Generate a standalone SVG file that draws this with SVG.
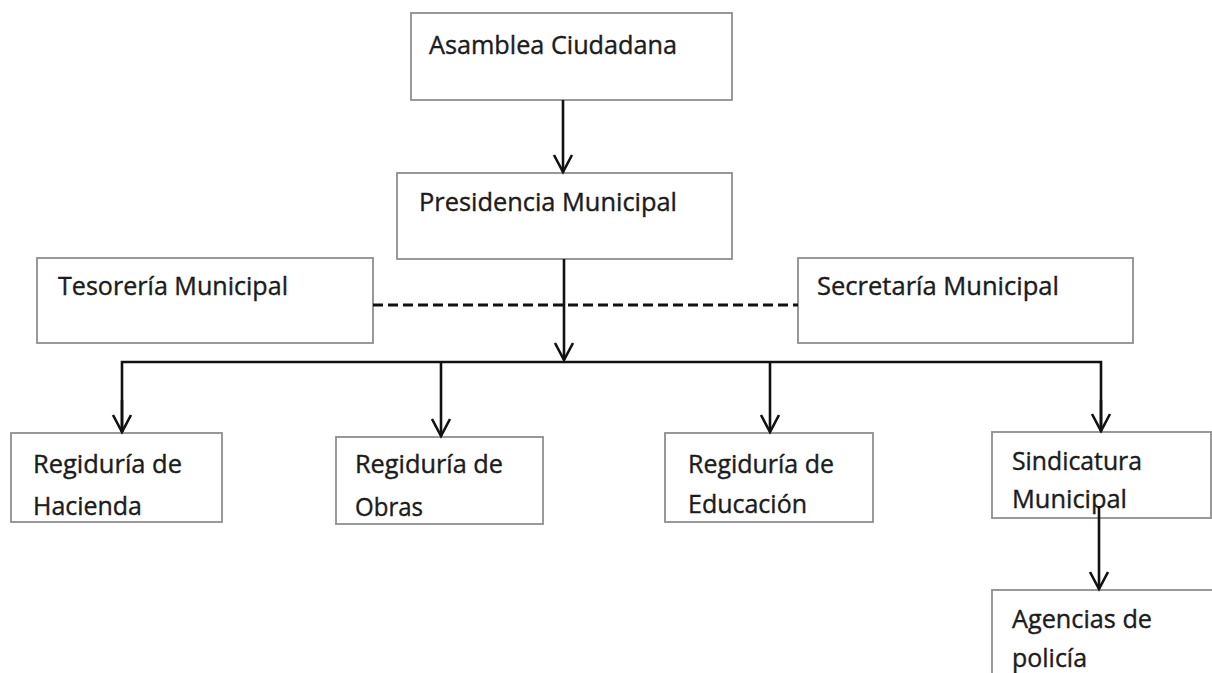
<svg xmlns="http://www.w3.org/2000/svg" width="1212" height="673" viewBox="0 0 1212 673">
<style>
.box{fill:#fff;stroke:#8e8e8e;stroke-width:1.8}
.t{font-family:"Open Sans","Liberation Sans",sans-serif;font-size:26px;fill:#1c1c1c;stroke:#1c1c1c;stroke-width:0.4}
.c{fill:none;stroke:#111;stroke-width:2.6}
.d{fill:none;stroke:#111;stroke-width:3;stroke-dasharray:10 5}
</style>
<defs>
<marker id="ah" markerUnits="userSpaceOnUse" markerWidth="40" markerHeight="40" viewBox="-20 -20 40 40" refX="0" refY="0" orient="auto" overflow="visible">
<path d="M-17,-9 L0,0 L-17,9" fill="none" stroke="#111" stroke-width="2.6"/>
</marker>
</defs>
<rect width="1212" height="673" fill="#fff"/>
<g id="asamblea"><rect class="box" x="411" y="13" width="321" height="87"/><text class="t" x="429" y="54" textLength="248" lengthAdjust="spacingAndGlyphs">Asamblea Ciudadana</text></g>
<g id="presidencia"><rect class="box" x="397" y="173" width="335" height="86"/><text class="t" x="419" y="211" textLength="258" lengthAdjust="spacingAndGlyphs">Presidencia Municipal</text></g>
<g id="tesoreria"><rect class="box" x="37" y="258" width="336" height="85"/><text class="t" x="58" y="295" textLength="230" lengthAdjust="spacingAndGlyphs">Tesorería Municipal</text></g>
<g id="secretaria"><rect class="box" x="798" y="258" width="335" height="85"/><text class="t" x="817" y="295" textLength="242" lengthAdjust="spacingAndGlyphs">Secretaría Municipal</text></g>
<g id="hacienda"><rect class="box" x="11" y="433" width="211" height="89"/><text class="t" x="33" y="473" textLength="149" lengthAdjust="spacingAndGlyphs">Regiduría de</text><text class="t" x="33" y="515" textLength="109" lengthAdjust="spacingAndGlyphs">Hacienda</text></g>
<g id="obras"><rect class="box" x="336" y="437" width="207" height="87"/><text class="t" x="355" y="473" textLength="148" lengthAdjust="spacingAndGlyphs">Regiduría de</text><text class="t" x="355" y="516" textLength="68" lengthAdjust="spacingAndGlyphs">Obras</text></g>
<g id="educacion"><rect class="box" x="665" y="433" width="208" height="89"/><text class="t" x="688" y="473" textLength="146" lengthAdjust="spacingAndGlyphs">Regiduría de</text><text class="t" x="688" y="513" textLength="119" lengthAdjust="spacingAndGlyphs">Educación</text></g>
<g id="sindicatura"><rect class="box" x="992" y="432" width="219" height="86"/><text class="t" x="1012" y="470" textLength="130" lengthAdjust="spacingAndGlyphs">Sindicatura</text><text class="t" x="1012" y="508" textLength="115" lengthAdjust="spacingAndGlyphs">Municipal</text></g>
<g id="agencias"><rect class="box" x="992" y="590" width="240" height="110"/><text class="t" x="1012" y="628" textLength="140" lengthAdjust="spacingAndGlyphs">Agencias de</text><text class="t" x="1012" y="667" textLength="75" lengthAdjust="spacingAndGlyphs">policía</text></g>
<g id="connectors">
<line class="c" x1="563" y1="100" x2="563" y2="172" marker-end="url(#ah)"/>
<line class="d" x1="373" y1="305" x2="798" y2="305"/>
<line class="c" x1="564" y1="259" x2="564" y2="360" marker-end="url(#ah)"/>
<polyline class="c" points="122,432 122,362 1101,362 1101,431"/>
<line class="c" x1="122" y1="400" x2="122" y2="432" marker-end="url(#ah)"/>
<line class="c" x1="441" y1="362" x2="441" y2="436" marker-end="url(#ah)"/>
<line class="c" x1="770" y1="362" x2="770" y2="432" marker-end="url(#ah)"/>
<line class="c" x1="1101" y1="400" x2="1101" y2="431" marker-end="url(#ah)"/>
<line class="c" x1="1099" y1="506" x2="1099" y2="589" marker-end="url(#ah)"/>
</g>
</svg>
